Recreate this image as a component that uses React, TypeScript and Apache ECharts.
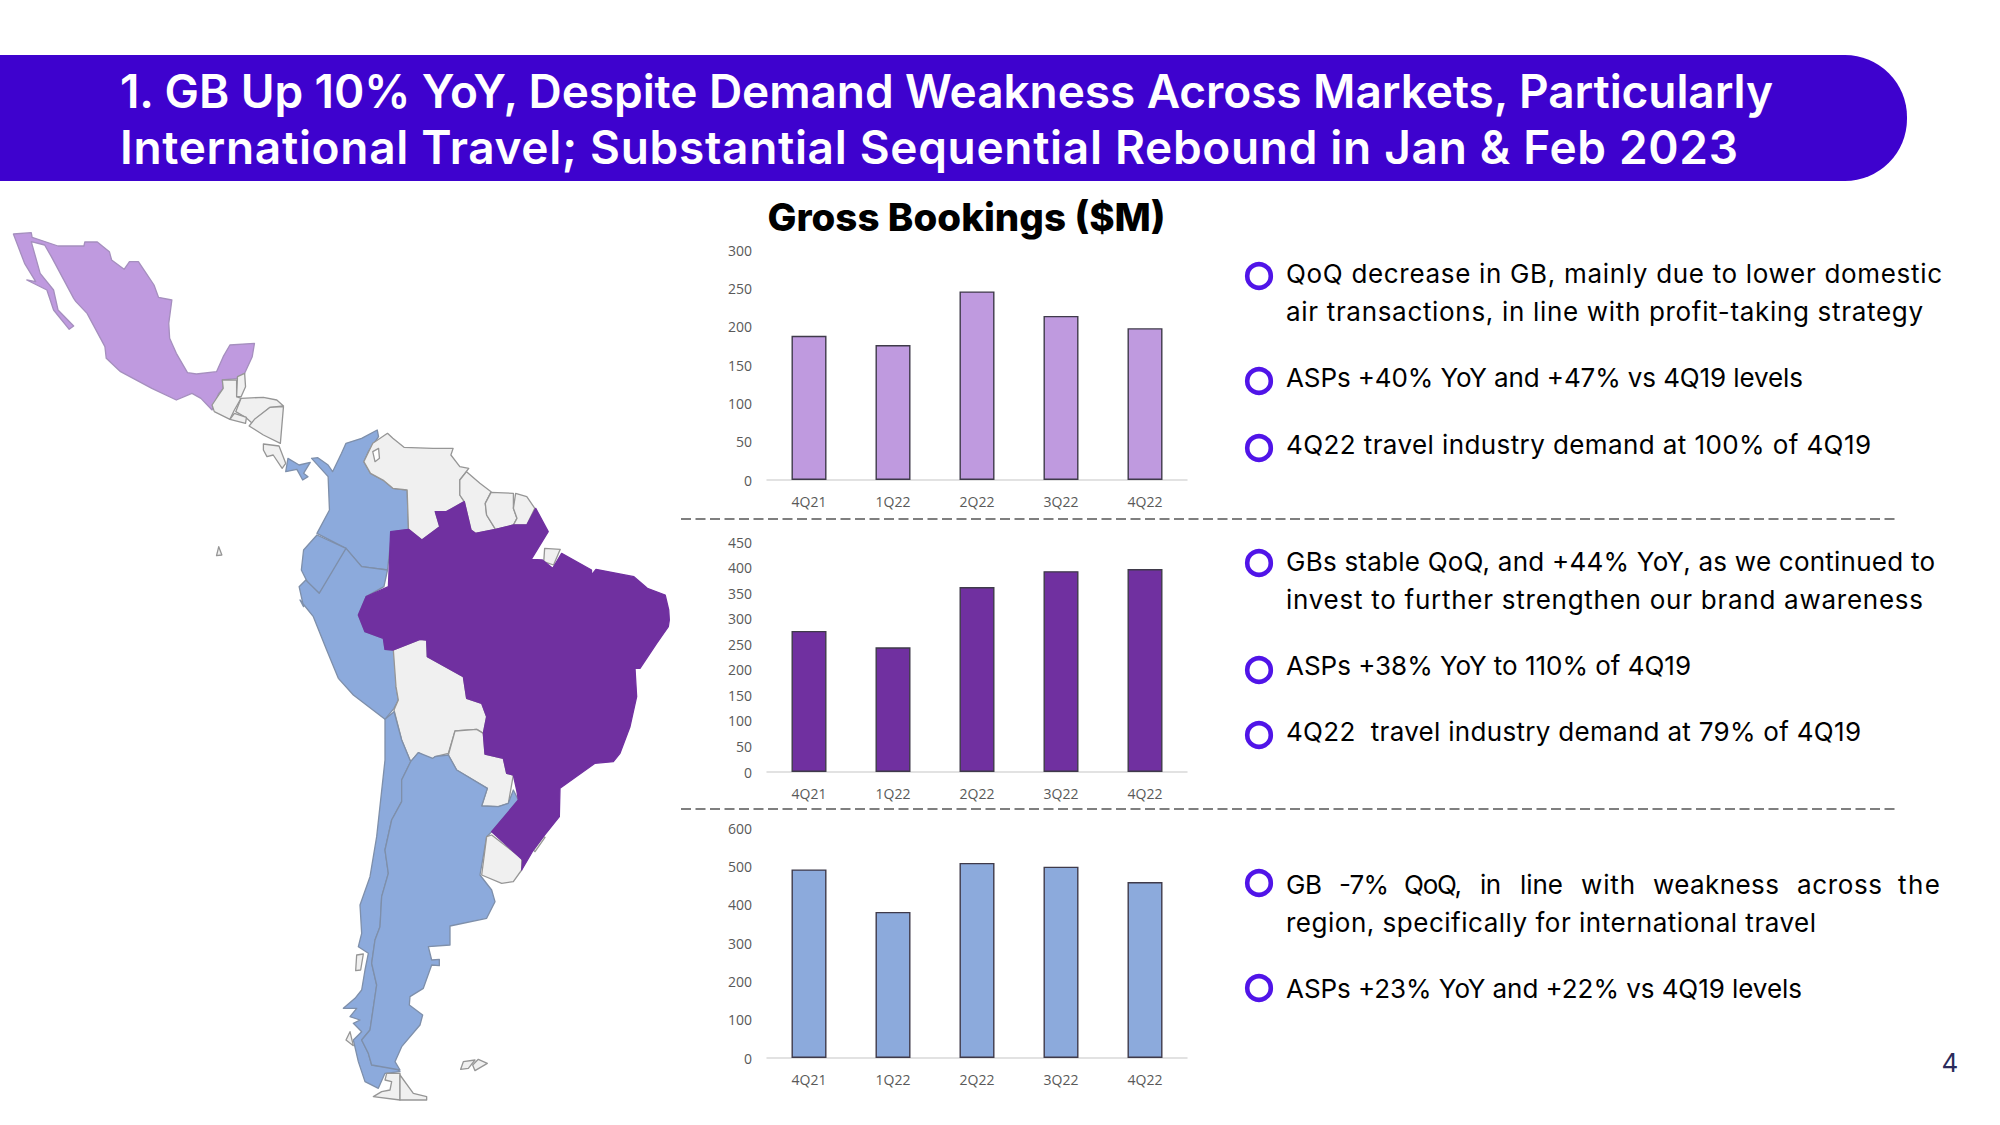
import React, { useEffect, useRef } from "react";
import * as echarts from "echarts";

const quarters = ["4Q21", "1Q22", "2Q22", "3Q22", "4Q22"];
const mexicoValues = [188, 176, 246, 214, 198];
const brazilValues = [276, 244, 362, 393, 397];
const southValues = [492, 381, 509, 499, 459];

const titleLines: [string, number][] = [
  ["1. GB Up 10% YoY, Despite Demand Weakness Across Markets, Particularly", 1653],
  ["International Travel; Substantial Sequential Rebound in Jan & Feb 2023", 1618],
];
const bodyLines: [string, number, number][] = [
  ["QoQ decrease in GB, mainly due to lower domestic", 273, 656],
  ["air transactions, in line with profit-taking strategy", 311, 637],
  ["ASPs +40% YoY and +47% vs 4Q19 levels", 377, 517],
  ["4Q22 travel industry demand at 100% of 4Q19", 444, 585],
  ["GBs stable QoQ, and +44% YoY, as we continued to", 561, 649],
  ["invest to further strengthen our brand awareness", 599, 637],
  ["ASPs +38% YoY to 110% of 4Q19", 665, 405],
  ["4Q22  travel industry demand at 79% of 4Q19", 731, 575],
  ["region, specifically for international travel", 922, 530],
  ["ASPs +23% YoY and +22% vs 4Q19 levels", 988, 516],
];
const justifiedWords: [string, number, number][] = [
  ["GB", 1286, 36], ["-7%", 1339, 50], ["QoQ,", 1404, 58], ["in", 1480, 21], ["line", 1520, 43],
  ["with", 1581, 54], ["weakness", 1653, 126], ["across", 1797, 85], ["the", 1898, 42],
];
const bulletYs = [276, 381, 448, 563, 670, 735, 883, 988];

const PURPLE = "#BF9ADF", DEEP = "#7030A0", BLUE = "#8CAADC", GREY = "#F0F0F0";
const FONT = "Inter";
const EDGE_GREY = "#969696", EDGE_BLUE = "#7E8FAA";

const z1 = (p: number[][]) => p.map(([x, y]) => [x / 2.24, 210 + y / 3]);
const z2 = (p: number[][]) => p.map(([x, y]) => [200 + x / 3, 600 + y / 3]);

const mapShapes: [number[][], string, string][] = [
  [z1([[30,72],[70,68],[72,82],[130,108],[188,108],[190,96],[218,96],[245,125],[250,150],[278,178],[290,155],[310,155],[325,185],[345,225],[355,262],[385,270],[378,340],[380,385],[395,430],[420,488],[440,492],[485,485],[500,440],[515,405],[570,400],[565,440],[548,490],[530,505],[498,510],[500,535],[490,550],[475,600],[450,565],[430,550],[395,570],[340,535],[270,485],[238,445],[235,410],[195,310],[170,275],[165,265],[115,140],[100,105],[70,95],[90,190],[120,240],[130,300],[165,348],[155,358],[120,300],[105,240],[60,210],[80,215],[55,160]]), PURPLE, "#A58FBE"],
  [z1([[498,510],[530,510],[530,560],[540,565],[525,600],[515,628],[480,605],[475,585],[490,555],[500,535]]), GREY, EDGE_GREY],
  [z1([[532,500],[548,490],[550,530],[540,560],[530,560]]), GREY, EDGE_GREY],
  [z1([[540,565],[590,562],[620,570],[635,588],[605,592],[575,625],[565,640],[550,622],[528,605]]), GREY, EDGE_GREY],
  [z1([[525,610],[552,622],[550,640],[515,628]]), GREY, EDGE_GREY],
  [z1([[635,590],[628,700],[590,675],[558,648],[570,628],[605,592]]), GREY, EDGE_GREY],
  [z1([[590,702],[625,708],[640,760],[632,775],[612,735],[598,740],[590,720]]), GREY, EDGE_GREY],
  [z1([[645,745],[670,765],[695,757],[680,790],[690,800],[678,810],[665,778],[640,785]]), BLUE, EDGE_BLUE],
  [z1([[698,745],[712,743],[735,765],[745,785],[765,730],[775,700],[810,685],[845,660],[848,680],[825,725],[815,755],[830,790],[860,812],[880,835],[912,840],[915,958],[880,965],[875,995],[868,1080],[810,1070],[775,1015],[710,970],[738,900],[735,800]]), BLUE, EDGE_BLUE],
  [z1([[710,975],[775,1015],[770,1050],[715,1150],[690,1120],[675,1080],[680,1020]]), BLUE, EDGE_BLUE],
  [[...z1([[775,1015],[810,1070],[868,1080],[860,1130],[820,1160]]), ...z2([[475,45],[495,95],[550,115],[555,148],[580,150],[597,195],[588,260],[595,300],[582,325],[555,358],[460,285],[415,235],[380,150],[340,50],[300,0]]), ...z1([[680,1190],[670,1130],[685,1110],[715,1150]])], BLUE, EDGE_BLUE],
  [z2([[580,150],[660,118],[680,120],[682,170],[790,230],[800,295],[845,310],[860,350],[850,400],[830,388],[765,393],[745,460],[705,470],[698,480],[655,458],[632,485],[605,420],[582,330],[595,300],[588,260]]), GREY, EDGE_GREY],
  [z2([[765,393],[830,388],[850,400],[855,462],[910,475],[920,520],[940,525],[925,610],[895,620],[845,618],[862,565],[770,510],[745,465]]), GREY, EDGE_GREY],
  [z2([[555,358],[582,335],[605,420],[632,485],[605,540],[605,605],[575,660],[555,750],[565,820],[545,890],[540,980],[525,1020],[515,1090],[530,1155],[510,1290],[485,1320],[505,1360],[515,1395],[590,1405],[600,1415],[555,1420],[535,1465],[495,1445],[475,1385],[460,1320],[485,1295],[460,1270],[480,1260],[450,1250],[470,1225],[430,1225],[465,1195],[485,1170],[495,1110],[505,1060],[475,1040],[485,1000],[480,915],[510,830],[530,710],[555,480]]), BLUE, EDGE_BLUE],
  [z2([[632,485],[655,458],[698,475],[705,470],[745,465],[770,510],[862,565],[845,618],[895,620],[925,610],[940,570],[955,600],[875,695],[860,710],[840,825],[875,870],[885,905],[860,955],[750,978],[750,1035],[685,1040],[695,1080],[718,1078],[718,1097],[695,1095],[670,1165],[630,1190],[628,1215],[668,1245],[660,1275],[605,1340],[585,1385],[600,1410],[515,1395],[505,1360],[485,1320],[510,1290],[530,1155],[515,1090],[525,1020],[540,980],[545,890],[565,820],[555,750],[575,660],[605,605],[605,540]]), BLUE, EDGE_BLUE],
  [z2([[875,705],[965,775],[965,810],[940,845],[905,850],[845,825],[860,710]]), GREY, EDGE_GREY],
  [z2([[1000,750],[1030,710],[1035,712],[1005,755]]), GREY, EDGE_GREY],
  [z2([[470,1065],[490,1062],[482,1110],[467,1112]]), GREY, EDGE_GREY],
  [z2([[450,1295],[460,1337],[438,1320]]), GREY, EDGE_GREY],
  [z2([[790,1385],[825,1380],[805,1405],[782,1408]]), GREY, EDGE_GREY],
  [z2([[835,1378],[862,1390],[825,1412],[818,1395]]), GREY, EDGE_GREY],
  [z2([[560,1420],[600,1420],[600,1500],[520,1490],[545,1475],[570,1470],[575,1445],[555,1440]]), GREY, EDGE_GREY],
  [z2([[600,1425],[640,1480],[680,1490],[680,1500],[600,1500]]), GREY, EDGE_GREY],
  [z1([[490,1010],[497,1035],[485,1037]]), GREY, EDGE_GREY],
  [z1([[868,670],[880,685],[905,712],[970,715],[1015,715],[1010,735],[1030,770],[1050,775],[1030,810],[1030,855],[1040,875],[1000,905],[975,905],[985,950],[945,990],[915,958],[912,840],[880,835],[860,812],[830,790],[815,755],[835,700]]), GREY, EDGE_GREY],
  [z1([[835,725],[848,715],[850,745],[840,755]]), "#FFFFFF", EDGE_GREY],
  [z1([[1045,785],[1075,820],[1100,845],[1087,880],[1090,915],[1110,958],[1065,970],[1055,960],[1040,875],[1030,855],[1030,810]]), GREY, EDGE_GREY],
  [z1([[1100,847],[1150,850],[1150,895],[1158,925],[1150,945],[1110,958],[1090,915],[1087,880]]), GREY, EDGE_GREY],
  [z1([[1155,850],[1180,860],[1198,895],[1180,945],[1150,945],[1158,925],[1150,895]]), GREY, EDGE_GREY],
  [z1([[1220,1015],[1255,1018],[1240,1065],[1218,1055]]), GREY, EDGE_GREY],
  [[...z1([[875,965],[915,958],[945,990],[985,950],[975,905],[1000,905],[1040,875],[1055,960],[1065,970],[1110,958],[1150,945],[1180,945],[1200,895],[1228,965],[1190,1048],[1215,1050],[1238,1075],[1258,1030],[1325,1080],[1325,1095],[1335,1078],[1420,1100],[1450,1135],[1490,1155],[1498,1200]]), ...z2([[1408,60],[1405,80],[1370,130],[1320,205],[1305,205],[1310,290],[1290,380],[1260,460],[1240,485],[1185,490],[1080,565],[1078,650],[1030,710],[1000,750],[965,810],[968,780],[875,695],[955,600],[950,570],[940,525],[920,520],[910,475],[855,462],[850,400],[860,350],[845,310],[800,295],[790,230],[682,170],[680,120],[660,118],[580,150],[555,148],[550,115],[495,95],[475,45]]), ...z1([[820,1160],[870,1130]])], DEEP, DEEP],
];

const grids = [
  { top: 250, height: 230, max: 300, interval: 50, color: PURPLE, values: mexicoValues },
  { top: 542, height: 230, max: 450, interval: 50, color: DEEP, values: brazilValues },
  { top: 828, height: 230, max: 600, interval: 100, color: BLUE, values: southValues },
];

const LEFT = 767, WIDTH = 420;

export default function App() {
  const ref = useRef<HTMLDivElement>(null);
  useEffect(() => {
    const chart = echarts.init(ref.current!, null, { renderer: "svg" });
    const graphics: any[] = [
      {
        type: "rect", z: 1,
        shape: { x: -70, y: 55, width: 1977, height: 126, r: 62 },
        style: { fill: "#3E02CE" },
      },
      ...titleLines.map(([t], i) => ({
        type: "text", z: 2, x: 120, y: 91 + i * 56,
        style: { text: t, fill: "#FFFFFF", font: `600 46px ${FONT}`, textVerticalAlign: "middle" },
      })),
      {
        type: "text", z: 2, x: 966.5, y: 216.5,
        style: { text: "Gross Bookings ($M)", fill: "#000000", font: `800 38.5px ${FONT}`, textAlign: "center", textVerticalAlign: "middle" },
      },
      ...[519, 809].map((y) => ({
        type: "line", z: 2,
        shape: { x1: 681, y1: y, x2: 1898, y2: y },
        style: { stroke: "#7F7F7F", lineWidth: 2, lineDash: [10, 4.5] },
      })),
      ...mapShapes.map(([points, fill, stroke]) => ({
        type: "polygon", z: 2,
        shape: { points },
        style: { fill, stroke, lineWidth: 1.3, lineJoin: "round" },
      })),
      ...bulletYs.map((y) => ({
        type: "circle", z: 2,
        shape: { cx: 1259, cy: y, r: 11.8 },
        style: { fill: "none", stroke: "#5014E8", lineWidth: 4.6 },
      })),
      ...bodyLines.map(([t, y]) => ({
        type: "text", z: 2, x: 1286, y,
        style: { text: t, fill: "#000000", font: `400 26px ${FONT}`, textVerticalAlign: "middle" },
      })),
      ...justifiedWords.map(([t, x]) => ({
        type: "text", z: 2, x, y: 884,
        style: { text: t, fill: "#000000", font: `400 26px ${FONT}`, textVerticalAlign: "middle" },
      })),
      {
        type: "text", z: 2, x: 1950, y: 1062,
        style: { text: "4", fill: "#2B2B5B", font: `400 26px ${FONT}`, textAlign: "center", textVerticalAlign: "middle" },
      },
    ];
    chart.setOption({
      animation: false,
      backgroundColor: "#FFFFFF",
      grid: grids.map((g) => ({ left: LEFT, width: WIDTH, top: g.top, height: g.height, containLabel: false })),
      xAxis: grids.map((_, i) => ({
        type: "category", gridIndex: i, data: quarters,
        axisTick: { show: false },
        axisLine: { lineStyle: { color: "#D9D9D9", width: 1.5 } },
        axisLabel: { color: "#595959", fontFamily: "Open Sans", fontSize: 14, margin: 14 },
      })),
      yAxis: grids.map((g, i) => ({
        type: "value", gridIndex: i, min: 0, max: g.max, interval: g.interval,
        splitLine: { show: false },
        axisLine: { show: false },
        axisTick: { show: false },
        axisLabel: { color: "#595959", fontFamily: "Open Sans", fontSize: 14, margin: 15 },
      })),
      series: grids.map((g, i) => ({
        type: "bar", xAxisIndex: i, yAxisIndex: i, data: g.values, barWidth: 35,
        itemStyle: { color: g.color, borderColor: "#3F3A4A", borderWidth: 1.4 },
      })),
      graphic: { elements: graphics },
    });
    // Fit each slide line to the measured width of the reference's font.
    const widths = new Map<string, number>();
    for (const [t, w] of titleLines) widths.set(t, w);
    for (const [t, , w] of bodyLines) widths.set(t, w);
    for (const [t, , w] of justifiedWords) widths.set(t, w);
    ref.current!.querySelectorAll("text").forEach((el) => {
      const w = widths.get(el.textContent || "");
      if (w) el.setAttribute("textLength", String(w));
    });
    return () => chart.dispose();
  }, []);
  return <div ref={ref} style={{ position: "fixed", left: 0, top: 0, width: 2000, height: 1125 }} />;
}
